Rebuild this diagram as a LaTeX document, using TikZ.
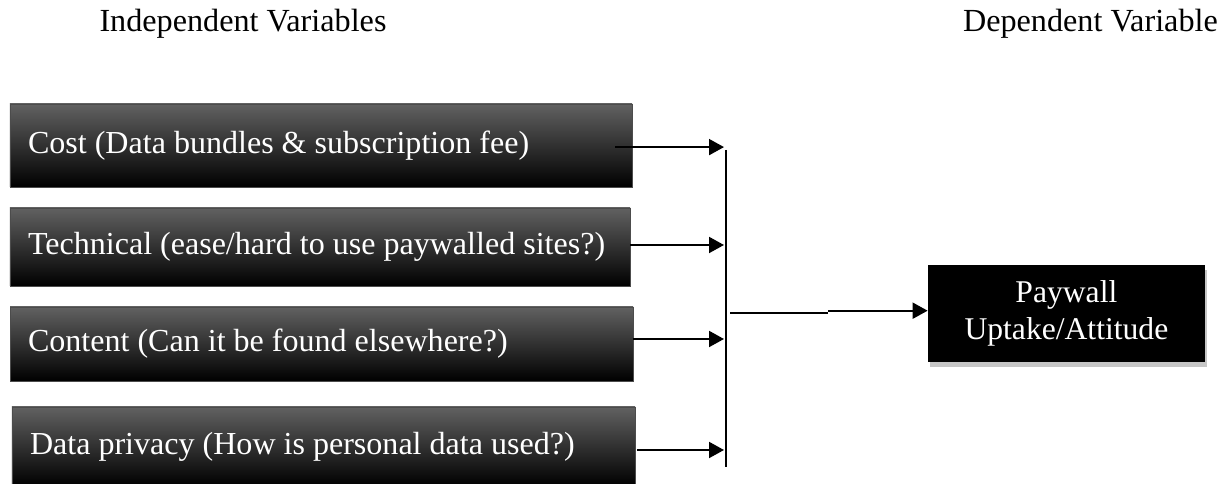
\documentclass[tikz,border=0pt]{standalone}
\usepackage{fontspec}
\setmainfont{Liberation Serif}
\usetikzlibrary{arrows.meta,shadows}

\begin{document}
\begin{tikzpicture}[
		>={Triangle[length=0.375cm,width=0.4cm]},
		ivbox/.style={top color=black!62, middle color=black, bottom color=black,
			draw=black!70, line width=0.4pt, text=white, align=flush left, inner xsep=0.45cm,
			font=\fontsize{22.8}{27}\selectfont},
		dvbox/.style={fill=black, text=white, align=center,
			drop shadow={shadow xshift=0.06cm, shadow yshift=-0.12cm, opacity=0.45},
			font=\fontsize{22.5}{26.3}\selectfont},
		link/.style={line width=1.4pt, arrows=->, shorten >=0.05cm},
		heading/.style={font=\fontsize{22.9}{27}\selectfont}
	]
			\useasboundingbox (0,0) rectangle (30.7,12.1);
			
			\node[heading] (ivtitle) at (6.075,11.5) {Independent Variables};
			\node[heading] (dvtitle) at (27.26,11.5) {Dependent Variable};
			
			% factors
			\node[ivbox, text width=14.65cm, minimum height=2.075cm] (cost) at (8.025,8.4625) {\mbox{Cost (Data bundles \& subscription fee)}};
			\node[ivbox, text width=14.6cm, minimum height=1.95cm] (tech) at (8.0,5.925) {\mbox{Technical (ease/hard to use paywalled sites?)}};
			\node[ivbox, text width=14.675cm, minimum height=1.85cm] (content) at (8.0375,3.5) {\mbox{Content (Can it be found elsewhere?)}};
			\node[ivbox, text width=14.675cm, minimum height=1.975cm] (privacy) at (8.0875,0.94) {\mbox{Data privacy (How is personal data used?)}};
			
			% outcome
			\node[dvbox, minimum width=6.925cm, minimum height=2.425cm] (uptake) at (26.66,4.2625) {Paywall\\Uptake/Attitude};
			
			% collecting line
			\coordinate (bustop) at (18.15,8.35);
			\coordinate (busbot) at (18.15,0.425);
			\coordinate (busout) at (18.25,4.28);
			\draw[line width=0.9pt] (bustop) -- (busbot);
			
			\coordinate (s1) at ([xshift=-0.425cm,yshift=-0.04cm]cost.east);
			\coordinate (s2) at ([yshift=0.05cm]tech.east);
			\coordinate (s3) at ([yshift=0.125cm]content.east);
			\coordinate (s4) at ([xshift=0.05cm,yshift=-0.09cm]privacy.east);
			\draw[link] (s1) -- (s1 -| bustop);
			\draw[link] (s2) -- (s2 -| bustop);
			\draw[link] (s3) -- (s3 -| bustop);
			\draw[link] (s4) -- (s4 -| bustop);
			
			\coordinate (e1) at ([yshift=0.07cm]uptake.west);
			\draw[line width=1.4pt] (busout) -- ++(2.45,0) coordinate (jog);
			\draw[link, shorten >=0cm] (jog |- e1) -- (e1);
			
		\end{tikzpicture}
\end{document}
